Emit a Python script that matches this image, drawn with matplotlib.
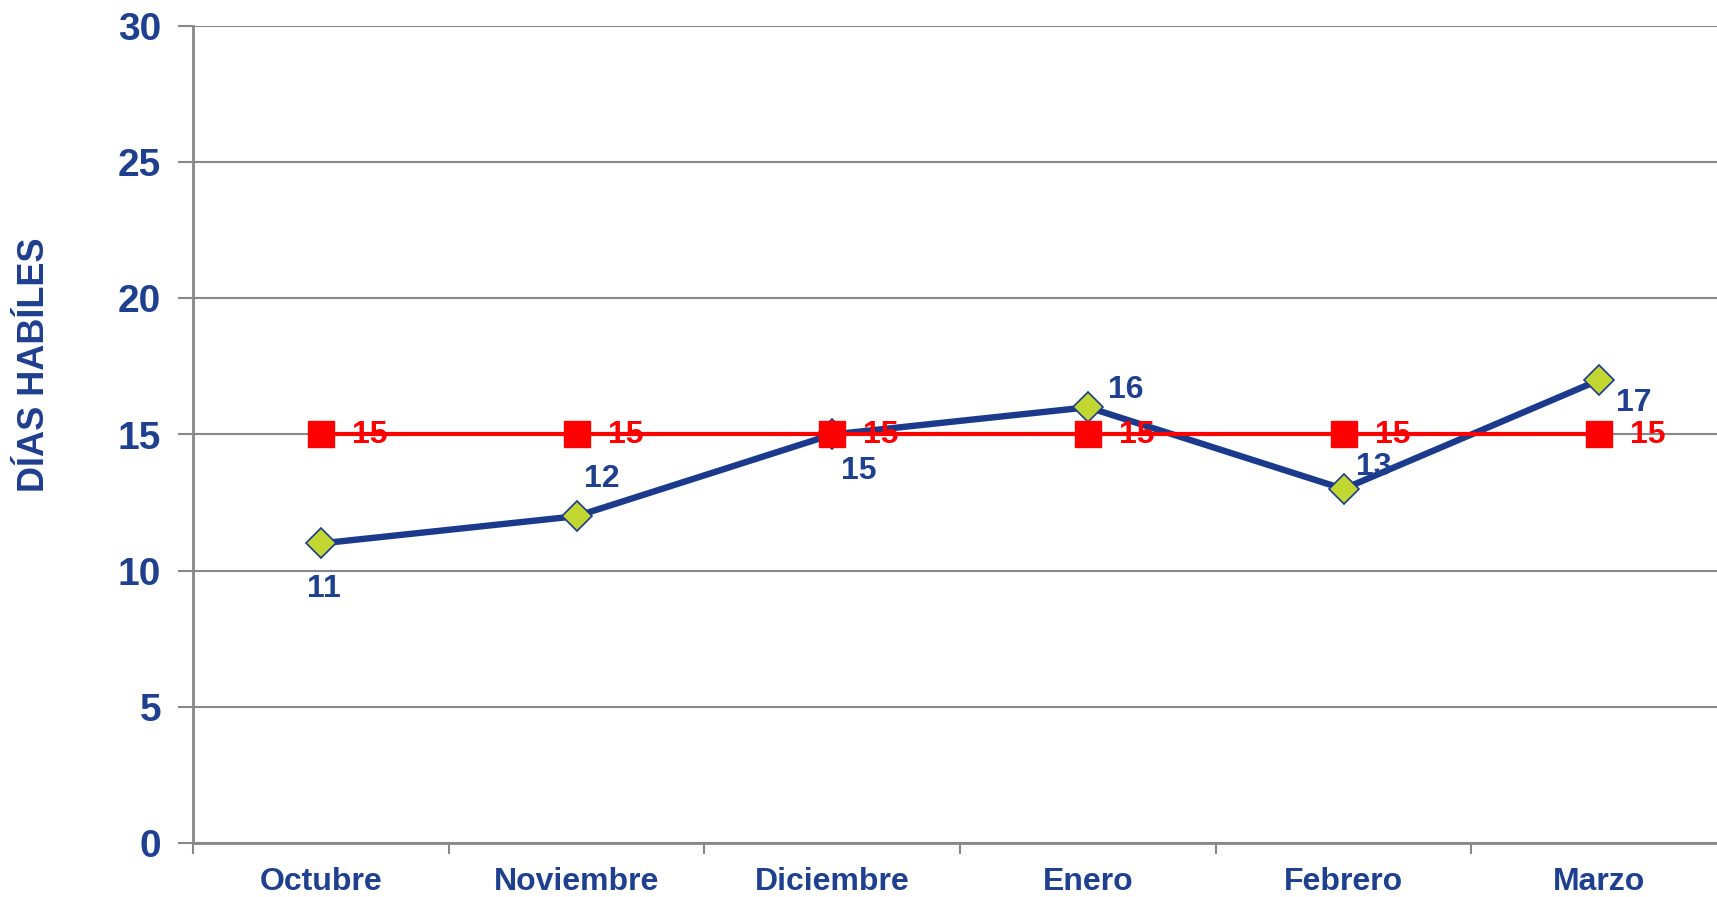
import matplotlib
matplotlib.use('Agg')
import matplotlib.pyplot as plt

meses = ['Octubre', 'Noviembre', 'Diciembre', 'Enero', 'Febrero', 'Marzo']
dias = [11, 12, 15, 16, 13, 17]
meta = [15, 15, 15, 15, 15, 15]

# label offsets in pixels (dx, dy) for the blue series
offs = [(3, -46), (25, 37), (27, -36), (38, 17), (30, 22), (35, -23)]

navy = '#1F3F8F'
red = '#FF0000'
plt.rcParams['font.family'] = ['Liberation Sans', 'DejaVu Sans']
plt.rcParams['font.weight'] = 'bold'

fig = plt.figure(figsize=(17.17, 8.97), dpi=100)
ax = fig.add_axes([193 / 1717, 1 - 843 / 897, 1534 / 1717, (843 - 26) / 897])

x = list(range(len(meses)))
ax.plot(x, dias, color='#1B3A8C', lw=4.6, marker='D', ms=15,
        mfc='#C2D632', mec='#1B3A8C', mew=1.2, zorder=3)
ax.plot(x, meta, color=red, lw=3.0, marker='s', ms=19, mfc=red, mec=red,
        zorder=4)

for i, v in enumerate(dias):
    dx, dy = offs[i]
    ax.annotate(str(v), (i, v), xytext=(dx * 0.72, dy * 0.72),
                textcoords='offset points', ha='center', va='center',
                color=navy, fontsize=23, fontweight='bold', zorder=5)
for i, v in enumerate(meta):
    ax.annotate(str(v), (i, v), xytext=(49 * 0.72, 0),
                textcoords='offset points', ha='center', va='center',
                color=red, fontsize=23, fontweight='bold', zorder=5)

ax.set_xlim(-0.5, 5.5)
ax.set_ylim(0, 30)
ax.set_yticks(range(0, 31, 5))
ax.set_xticks([i - 0.5 for i in range(7)])
ax.set_xticklabels([])
ax.set_xticks(x, minor=True)
ax.set_xticklabels(meses, minor=True)
ax.tick_params(axis='x', which='minor', length=0, pad=17, labelsize=23,
               labelcolor=navy)
ax.tick_params(axis='x', which='major', length=8, width=1.5, color='#888888',
               direction='out')
ax.tick_params(axis='y', length=11, width=1.5, color='#888888', pad=12,
               labelsize=28, labelcolor=navy)
for lab in ax.get_yticklabels() + ax.get_xticklabels(minor=True):
    lab.set_fontweight('bold')

ax.grid(axis='y', color='#888888', lw=1.5)
ax.set_axisbelow(True)
for s in ['top', 'right']:
    ax.spines[s].set_visible(False)
for s in ['left', 'bottom']:
    ax.spines[s].set_color('#888888')
    ax.spines[s].set_linewidth(2)

fig.text(34 / 1717, 1 - 365 / 897, 'DÍAS HABÍLES', rotation=90, ha='center',
         va='center', color=navy, fontsize=26, fontweight='bold')

fig.savefig('out.png', dpi=100)
